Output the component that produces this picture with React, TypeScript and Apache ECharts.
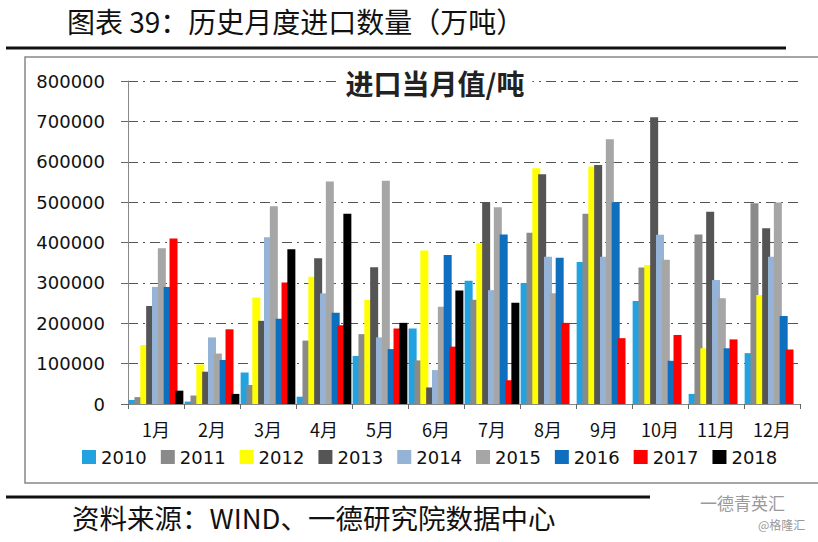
import React, { useEffect, useRef } from "react";
import * as echarts from "echarts";

const months = ["1月", "2月", "3月", "4月", "5月", "6月", "7月", "8月", "9月", "10月", "11月", "12月"];
const years = ["2010", "2011", "2012", "2013", "2014", "2015", "2016", "2017", "2018"];
const yearColors = ["#22a3e0", "#8a8a8a", "#ffff00", "#555555", "#95b3d7", "#a6a6a6", "#0f6fbf", "#ff0000", "#000000"];

const v2010 = [10000, 6000, 78000, 18000, 119000, 187000, 305000, 300000, 352000, 255000, 25000, 126000];
const v2011 = [17000, 21000, 47000, 157000, 173000, 108000, 258000, 424000, 471000, 338000, 420000, 497000];
const v2012 = [146000, 98000, 264000, 315000, 258000, 380000, 398000, 584000, 588000, 344000, 138000, 270000];
const v2013 = [243000, 80000, 206000, 361000, 339000, 41000, 500000, 569000, 592000, 710000, 476000, 435000];
const v2014 = [290000, 165000, 413000, 274000, 165000, 84000, 282000, 365000, 365000, 419000, 307000, 365000];
const v2015 = [386000, 125000, 490000, 551000, 553000, 241000, 487000, 274000, 656000, 357000, 262000, 499000];
const v2016 = [290000, 109000, 211000, 226000, 136000, 369000, 420000, 362000, 500000, 107000, 138000, 218000];
const v2017 = [410000, 185000, 301000, 195000, 187000, 142000, 59000, 201000, 163000, 171000, 160000, 135000];
const v2018 = [33000, 25000, 383000, 471000, 201000, 281000, 251000, null, null, null, null, null];
const seriesValues = [v2010, v2011, v2012, v2013, v2014, v2015, v2016, v2017, v2018];

const yTicks = [0, 100000, 200000, 300000, 400000, 500000, 600000, 700000, 800000];

export default function App() {
  const ref = useRef<HTMLDivElement>(null);
  useEffect(() => {
    if (!ref.current) return;
    const chart = echarts.init(ref.current, null, { renderer: "svg" });
    const cjk = '"Noto Sans CJK SC", sans-serif';
    chart.setOption({
      animation: false,
      backgroundColor: "#ffffff",
      title: {
        text: "进口当月值/吨",
        left: 427,
        top: 69,
        textAlign: "center",
        backgroundColor: "#ffffff",
        padding: [0, 8],
        textStyle: { fontFamily: cjk, fontSize: 28, fontWeight: "bold", color: "#222" },
      },
      legend: {
        data: years,
        left: 77,
        top: 443,
        itemWidth: 14,
        itemHeight: 14,
        itemGap: 14,
        icon: "rect",
        textStyle: { fontFamily: "DejaVu Sans", fontSize: 18, color: "#111" },
      },
      grid: { left: 128, right: 18, top: 81, bottom: 138, containLabel: false },
      xAxis: {
        type: "category",
        data: months,
        axisLine: { lineStyle: { color: "#888", width: 1 } },
        axisTick: { show: true, alignWithLabel: false, length: 5, lineStyle: { color: "#666" } },
        axisLabel: { fontFamily: cjk, fontSize: 18, color: "#111", margin: 16 },
      },
      yAxis: {
        type: "value",
        min: yTicks[0],
        max: yTicks[yTicks.length - 1],
        interval: 100000,
        axisLine: { show: true, lineStyle: { color: "#888", width: 1 } },
        axisTick: { show: true, length: 7, lineStyle: { color: "#666" } },
        axisLabel: {
          fontFamily: "DejaVu Sans",
          fontSize: 18,
          color: "#111",
          margin: 23,
          formatter: (v: number) => String(v),
        },
        splitLine: { show: true, lineStyle: { color: "#555", width: 1.2, type: [10, 5, 2, 5] } },
      },
      series: years.map((y, i) => ({
        name: y,
        type: "bar",
        data: seriesValues[i],
        barWidth: 8,
        barGap: "-27%",
        itemStyle: { color: yearColors[i] },
      })),
      graphic: [
        {
          type: "text",
          left: 67,
          top: 7,
          style: { text: "图表 39：历史月度进口数量（万吨）", fontFamily: cjk, fontSize: 28, fill: "#111" },
        },
        { type: "line", shape: { x1: 6, y1: 48, x2: 786, y2: 48 }, style: { stroke: "#111", lineWidth: 3 } },
        {
          type: "rect",
          shape: { x: 25, y: 57, width: 800, height: 426 },
          style: { fill: "none", stroke: "#888", lineWidth: 1.5 },
          silent: true,
        },
        { type: "line", shape: { x1: 6, y1: 497, x2: 650, y2: 497 }, style: { stroke: "#111", lineWidth: 3 } },
        {
          type: "text",
          left: 72,
          top: 503,
          style: { text: "资料来源：WIND、一德研究院数据中心", fontFamily: cjk, fontSize: 27.5, fill: "#111" },
        },
        {
          type: "text",
          left: 700,
          top: 494,
          style: { text: "一德青英汇", fontFamily: cjk, fontSize: 17, fill: "#9a9a9a" },
        },
        {
          type: "text",
          left: 758,
          top: 518,
          style: { text: "@格隆汇", fontFamily: cjk, fontSize: 12, fill: "#999" },
        },
      ],
    });
    return () => chart.dispose();
  }, []);
  return <div ref={ref} style={{ position: "fixed", left: 0, top: 0, width: 818, height: 542 }} />;
}
